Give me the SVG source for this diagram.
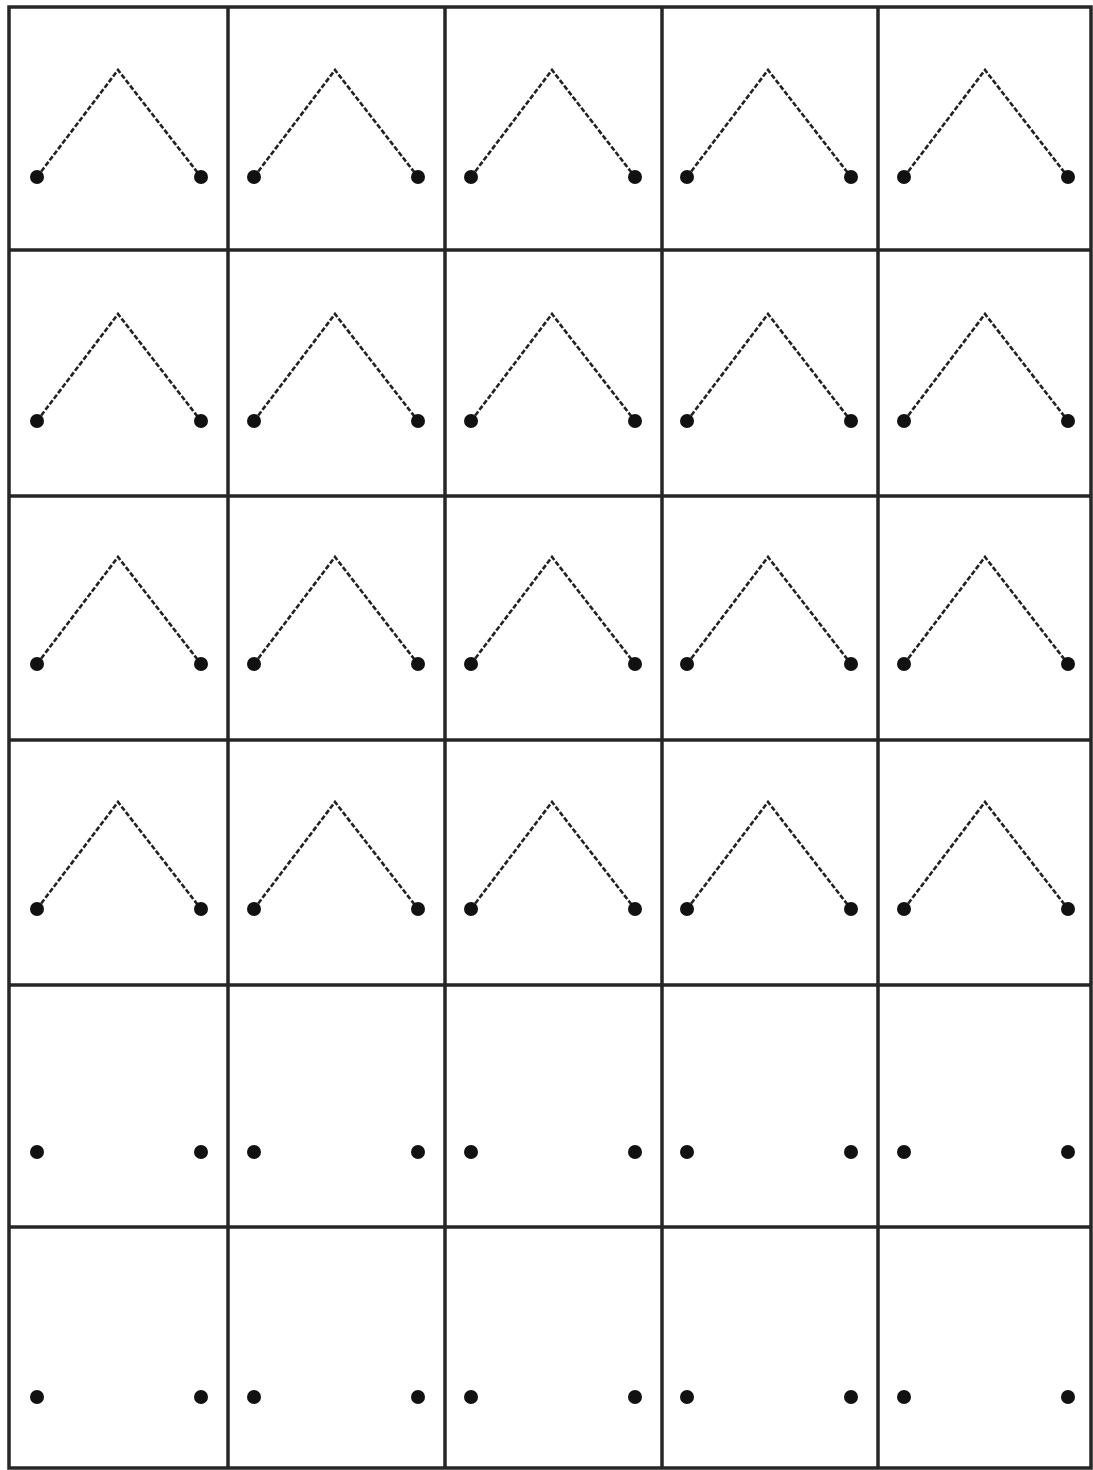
<svg xmlns="http://www.w3.org/2000/svg" width="1093" height="1470" viewBox="0 0 1093 1470">
<style>
.grid{stroke:#262626;stroke-width:3.5;fill:none}
.roof{stroke:#222;stroke-width:2.6;fill:none;stroke-linejoin:miter;stroke-dasharray:5 2}
.dot{fill:#111}
</style>
<defs>
<g id="roofcell">
<polyline class="roof" points="28,107 109,0 192,107"/>
<circle class="dot" cx="28" cy="107" r="7"/>
<circle class="dot" cx="192" cy="107" r="7"/>
</g>
<g id="dotcell">
<circle class="dot" cx="28" cy="0" r="7"/>
<circle class="dot" cx="192" cy="0" r="7"/>
</g>
</defs>
<rect width="1093" height="1470" fill="#fff"/>
<g id="grid" class="grid">
<rect x="9" y="7" width="1082" height="1461"/>
<line x1="228" y1="7" x2="228" y2="1468"/>
<line x1="445" y1="7" x2="445" y2="1468"/>
<line x1="662" y1="7" x2="662" y2="1468"/>
<line x1="878" y1="7" x2="878" y2="1468"/>
<line x1="9" y1="250" x2="1091" y2="250"/>
<line x1="9" y1="496" x2="1091" y2="496"/>
<line x1="9" y1="740" x2="1091" y2="740"/>
<line x1="9" y1="985" x2="1091" y2="985"/>
<line x1="9" y1="1227" x2="1091" y2="1227"/>
</g>
<g id="row1">
<use href="#roofcell" x="9" y="70"/>
<use href="#roofcell" x="226" y="70"/>
<use href="#roofcell" x="443" y="70"/>
<use href="#roofcell" x="659" y="70"/>
<use href="#roofcell" x="876" y="70"/>
</g>
<g id="row2">
<use href="#roofcell" x="9" y="314"/>
<use href="#roofcell" x="226" y="314"/>
<use href="#roofcell" x="443" y="314"/>
<use href="#roofcell" x="659" y="314"/>
<use href="#roofcell" x="876" y="314"/>
</g>
<g id="row3">
<use href="#roofcell" x="9" y="557"/>
<use href="#roofcell" x="226" y="557"/>
<use href="#roofcell" x="443" y="557"/>
<use href="#roofcell" x="659" y="557"/>
<use href="#roofcell" x="876" y="557"/>
</g>
<g id="row4">
<use href="#roofcell" x="9" y="802"/>
<use href="#roofcell" x="226" y="802"/>
<use href="#roofcell" x="443" y="802"/>
<use href="#roofcell" x="659" y="802"/>
<use href="#roofcell" x="876" y="802"/>
</g>
<g id="row5">
<use href="#dotcell" x="9" y="1152"/>
<use href="#dotcell" x="226" y="1152"/>
<use href="#dotcell" x="443" y="1152"/>
<use href="#dotcell" x="659" y="1152"/>
<use href="#dotcell" x="876" y="1152"/>
</g>
<g id="row6">
<use href="#dotcell" x="9" y="1397"/>
<use href="#dotcell" x="226" y="1397"/>
<use href="#dotcell" x="443" y="1397"/>
<use href="#dotcell" x="659" y="1397"/>
<use href="#dotcell" x="876" y="1397"/>
</g>
</svg>
